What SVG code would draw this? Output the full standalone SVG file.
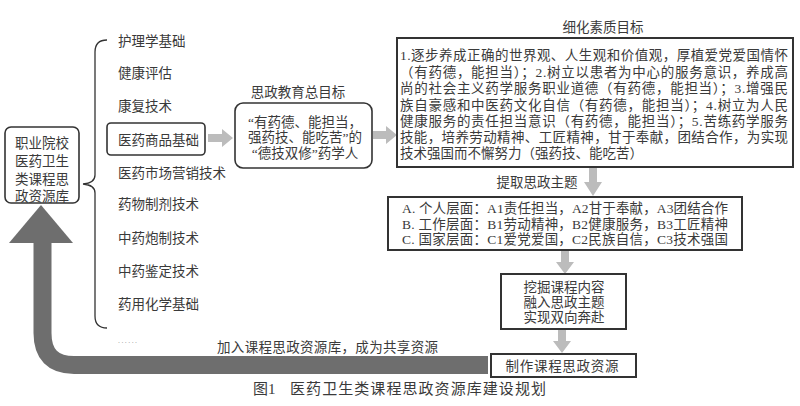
<svg xmlns="http://www.w3.org/2000/svg" width="800" height="406" viewBox="0 0 800 406">
<style>
text{font-family:"Liberation Serif","Noto Sans CJK SC",serif;fill:#3a3a3a;font-size:13.5px}
.c{text-anchor:middle}
.box{fill:#fff;stroke:#333;stroke-width:1.6}
.sq{fill:#fff;stroke:#333;stroke-width:2}
.la{fill:#bcbcbc}
</style>
<rect width="800" height="406" fill="#fff"/>
<g id="connectors">
<path d="M42.5,243 L42.5,333 Q42.5,365 74,365 L488,365" fill="none" stroke="#6e6e6e" stroke-width="18"/>
<polygon points="9,243 73,243 41,205" fill="#6e6e6e"/>
<path d="M107,40 Q95,40 95,52 L95,175 Q95,183 83,184 Q95,185 95,193 L95,316 Q95,328 107,328" fill="none" stroke="#333" stroke-width="1.3"/>
<polygon class="la" points="208,134 222,134 222,129 233,138 222,147 222,142 208,142"/>
<polygon class="la" points="373,131 386,131 386,126 397,135 386,144 386,139 373,139"/>
<polygon class="la" points="589,168 597,168 597,182 602,182 593,196 584,182 589,182"/>
<polygon class="la" points="561,251 569,251 569,262 574,262 565,274 556,262 561,262"/>
<polygon class="la" points="558,330 566,330 566,341 571,341 562,353 553,341 558,341"/>
<text x="217" y="352" textLength="221" lengthAdjust="spacing">加入课程思政资源库，成为共享资源</text>
</g>
<g id="node-root">
<rect class="box" x="5" y="127" width="74" height="76" rx="6"/>
<text class="c" x="42" y="148">职业院校</text>
<text class="c" x="42" y="166">医药卫生</text>
<text class="c" x="42" y="184">类课程思</text>
<text class="c" x="42" y="201">政资源库</text>
</g>
<g id="node-courses">
<text x="118" y="46">护理学基础</text>
<text x="118" y="78">健康评估</text>
<text x="118" y="111">康复技术</text>
<text x="118" y="178">医药市场营销技术</text>
<text x="118" y="209">药物制剂技术</text>
<text x="118" y="243">中药炮制技术</text>
<text x="118" y="276">中药鉴定技术</text>
<text x="118" y="309">药用化学基础</text>
<text x="118" y="343" style="font-family:'Liberation Sans',sans-serif;font-size:7px;fill:#888" textLength="19" lengthAdjust="spacing">......</text>
</g>
<g id="node-course-selected">
<rect class="box" x="107" y="123" width="98" height="32" rx="4"/>
<text x="118" y="145">医药商品基础</text>
</g>
<g id="node-goal">
<text class="c" x="298" y="97">思政教育总目标</text>
<rect class="box" x="235" y="103" width="137" height="65" rx="8"/>
<text class="c" x="305" y="127">“有药德、能担当，</text>
<text class="c" x="305" y="142">强药技、能吃苦”的</text>
<text class="c" x="305" y="158">“德技双修”药学人</text>
</g>
<g id="node-quality">
<text class="c" x="603" y="32">细化素质目标</text>
<rect class="sq" x="397" y="38" width="396" height="129"/>
<g style="font-size:14px">
<text x="400" y="60" textLength="388" lengthAdjust="spacing">1.逐步养成正确的世界观、人生观和价值观，厚植爱党爱国情怀</text>
<text x="400" y="77" textLength="388" lengthAdjust="spacing">（有药德，能担当）；2.树立以患者为中心的服务意识，养成高</text>
<text x="400" y="93" textLength="388" lengthAdjust="spacing">尚的社会主义药学服务职业道德（有药德，能担当）；3.增强民</text>
<text x="400" y="110" textLength="388" lengthAdjust="spacing">族自豪感和中医药文化自信（有药德，能担当）；4.树立为人民</text>
<text x="400" y="126" textLength="388" lengthAdjust="spacing">健康服务的责任担当意识（有药德，能担当）；5.苦练药学服务</text>
<text x="400" y="142" textLength="388" lengthAdjust="spacing">技能，培养劳动精神、工匠精神，甘于奉献，团结合作，为实现</text>
<text x="400" y="158">技术强国而不懈努力（强药技、能吃苦）</text>
</g>
</g>
<g id="node-themes">
<text class="c" x="537" y="187">提取思政主题</text>
<rect class="sq" x="388" y="197" width="354" height="53"/>
<text x="402" y="213" textLength="326" lengthAdjust="spacing">A. 个人层面：A1责任担当，A2甘于奉献，A3团结合作</text>
<text x="402" y="229" textLength="326" lengthAdjust="spacing">B. 工作层面：B1劳动精神，B2健康服务，B3工匠精神</text>
<text x="402" y="244" textLength="326" lengthAdjust="spacing">C. 国家层面：C1爱党爱国，C2民族自信，C3技术强国</text>
</g>
<g id="node-dig">
<rect class="sq" x="501" y="274" width="125" height="55"/>
<text class="c" x="564" y="292">挖掘课程内容</text>
<text class="c" x="564" y="307">融入思政主题</text>
<text class="c" x="564" y="322">实现双向奔赴</text>
</g>
<g id="node-make">
<rect class="sq" x="491" y="354" width="145" height="23"/>
<text class="c" x="562" y="371" textLength="113" lengthAdjust="spacing">制作课程思政资源</text>
</g>
<text x="253" y="394" style="font-size:15px">图1</text>
<text x="290" y="394" style="font-size:15px" textLength="256" lengthAdjust="spacing">医药卫生类课程思政资源库建设规划</text>
</svg>
